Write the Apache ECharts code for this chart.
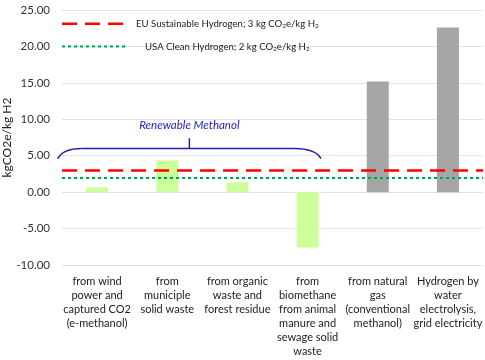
<!DOCTYPE html>
<html><head><meta charset="utf-8">
<script src="https://cdn.jsdelivr.net/npm/echarts@6/dist/echarts.min.js"></script>
<style>html,body{margin:0;padding:0;background:#fff}#c{width:485px;height:360px}</style>
</head><body><div id="c"></div>
<script>
const categories = [
  "from wind\npower and\ncaptured CO2\n(e-methanol)",
  "from\nmuniciple\nsolid waste",
  "from organic\nwaste and\nforest residue",
  "from\nbiomethane\nfrom animal\nmanure and\nsewage solid\nwaste",
  "from natural\ngas\n(conventional\nmethanol)",
  "Hydrogen by\nwater\nelectrolysis,\ngrid electricity"
];
const values = [0.65, 4.35, 1.35, -7.6, 15.2, 22.6];
const isRenewable = [true, true, true, true, false, false];
const euThreshold = 3;
const usaThreshold = 2;
const euLabel = '{t|EU Sustainable Hydrogen; 3 kg CO}{s|2}{t|e/kg H}{s|2}';
const usaLabel = '{t|USA Clean Hydrogen; 2 kg CO}{s|2}{t|e/kg H}{s|2}';
const yTicks = { min: -10, max: 25, interval: 5 };
const annotationText = "Renewable Methanol";

const FONT = "Lato";
const EU_STYLE = { color: '#ff0000', width: 2.5, type: [15, 8] };
const USA_STYLE = { color: '#00a050', width: 2, type: [3, 3] };
const chart = echarts.init(document.getElementById('c'), null, {renderer: 'canvas'});
const option = {
  animation: false,
  backgroundColor: '#fff',
  textStyle: { fontFamily: FONT },
  grid: { left: 62, right: 2, top: 10, bottom: 95, containLabel: false, outerBoundsMode: 'none' },
  xAxis: {
    type: 'category', data: categories,
    axisLine: { show: false }, axisTick: { show: false },
    axisLabel: { interval: 0, fontFamily: FONT, fontSize: 11, lineHeight: 14, color: '#222', margin: 9 }
  },
  yAxis: {
    type: 'value', min: yTicks.min, max: yTicks.max, interval: yTicks.interval,
    name: 'kgCO2e/kg H2', nameLocation: 'middle', nameGap: 49, nameMoveOverlap: false,
    nameTextStyle: { fontFamily: FONT, fontSize: 12, color: '#222' },
    axisLine: { show: false }, axisTick: { show: false },
    splitLine: { lineStyle: { color: '#e3e3e3', width: 1 } },
    axisLabel: { fontFamily: FONT, fontSize: 11.5, color: '#333', margin: 12,
      formatter: v => v.toFixed(2) }
  },
  series: [
    {
      type: 'bar', barWidth: 22,
      data: values.map((v, i) => ({ value: v, itemStyle: { color: isRenewable[i] ? '#ccff99' : '#a6a6a6' } }))
    },
    {
      name: 'EU', type: 'line', data: [], symbol: 'none',
      markLine: { symbol: 'none', silent: true, label: { show: false },
        lineStyle: EU_STYLE, data: [{ yAxis: euThreshold }] }
    },
    {
      name: 'USA', type: 'line', data: [], symbol: 'none',
      markLine: { symbol: 'none', silent: true, label: { show: false },
        lineStyle: USA_STYLE, data: [{ yAxis: usaThreshold }] }
    }
  ]
};
chart.setOption(option);

// brace annotation over the renewable categories
const c0 = chart.convertToPixel({ xAxisIndex: 0 }, 0);
const c1 = chart.convertToPixel({ xAxisIndex: 0 }, 1);
const c3 = chart.convertToPixel({ xAxisIndex: 0 }, 3);
const band = c1 - c0;
const left = c0 - 0.56 * band, right = c3 + 0.19 * band, mid = (left + right) / 2;
const yEnd = chart.convertToPixel({ yAxisIndex: 0 }, 4.6);
const yFlat = chart.convertToPixel({ yAxisIndex: 0 }, 6.0);
const yTop = chart.convertToPixel({ yAxisIndex: 0 }, 7.4);
const braceStyle = { stroke: '#1f1fb0', lineWidth: 1.5, fill: null };
const rich = {
  t: { fontFamily: FONT, fontSize: 9.6, fill: '#222' },
  s: { fontFamily: FONT, fontSize: 6.5, fill: '#222', padding: [5, 0, 0, 0] }
};
const gx = c0 - 0.5 * band;
const y20 = chart.convertToPixel({ yAxisIndex: 0 }, 20);
const y25 = chart.convertToPixel({ yAxisIndex: 0 }, 25);
const legY1 = y25 + 0.38 * (y20 - y25);
const legY2 = y20;
chart.setOption({
  graphic: [
    { type: 'bezierCurve', shape: { x1: left, y1: yEnd, cpx1: left + 5, cpy1: yFlat, x2: left + 24, y2: yFlat }, style: braceStyle, silent: true },
    { type: 'line', shape: { x1: left + 24, y1: yFlat, x2: right - 27, y2: yFlat }, style: braceStyle, silent: true },
    { type: 'bezierCurve', shape: { x1: right - 27, y1: yFlat, cpx1: right - 5, cpy1: yFlat, x2: right, y2: yEnd }, style: braceStyle, silent: true },
    { type: 'line', shape: { x1: mid, y1: yFlat, x2: mid, y2: yTop }, style: braceStyle, silent: true },
    { type: 'text', x: mid, y: yTop - 13, style: { text: annotationText, fontFamily: FONT, fontStyle: 'italic', fontSize: 11.5, fill: '#2424c0', align: 'center', verticalAlign: 'middle' }, silent: true },
    // legend
    { type: 'line', shape: { x1: gx, y1: legY1, x2: gx + 63, y2: legY1 }, style: { stroke: EU_STYLE.color, lineWidth: EU_STYLE.width, lineDash: EU_STYLE.type }, silent: true },
    { type: 'line', shape: { x1: gx, y1: legY2, x2: gx + 63, y2: legY2 }, style: { stroke: USA_STYLE.color, lineWidth: USA_STYLE.width, lineDash: USA_STYLE.type }, silent: true },
    { type: 'text', x: gx + 74, y: legY1, style: { text: euLabel, rich: rich, verticalAlign: 'middle' }, silent: true },
    { type: 'text', x: gx + 83, y: legY2, style: { text: usaLabel, rich: rich, verticalAlign: 'middle' }, silent: true }
  ]
});
</script></body></html>
